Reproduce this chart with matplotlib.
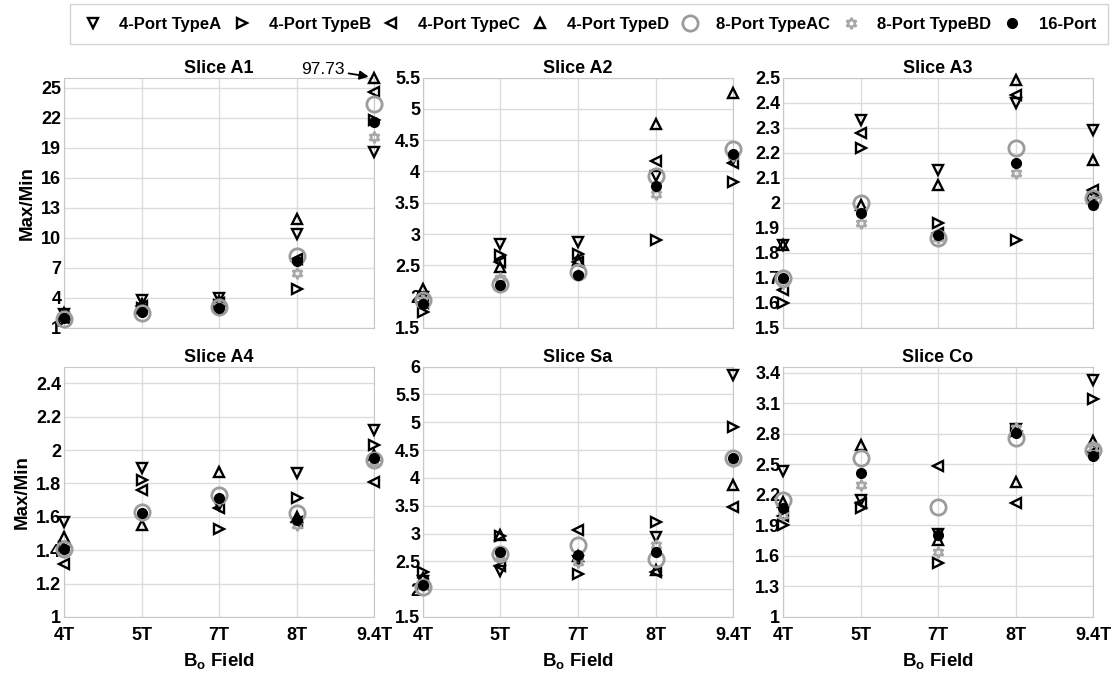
import matplotlib
matplotlib.use('Agg')
import matplotlib.pyplot as plt
from matplotlib.ticker import FuncFormatter
import numpy as np

plt.rcParams['font.family'] = ['Liberation Sans', 'DejaVu Sans']
plt.rcParams['font.weight'] = 'bold'
plt.rcParams['mathtext.fontset'] = 'custom'
plt.rcParams['mathtext.rm'] = 'Liberation Sans:bold'
plt.rcParams['mathtext.bf'] = 'Liberation Sans:bold'

fields = ['4T', '5T', '7T', '8T', '9.4T']
series = ['4-Port TypeA', '4-Port TypeB', '4-Port TypeC', '4-Port TypeD',
          '8-Port TypeAC', '8-Port TypeBD', '16-Port']
titles = ['Slice A1', 'Slice A2', 'Slice A3', 'Slice A4', 'Slice Sa', 'Slice Co']

# Max/Min ratio, one row per coil configuration, one column per field strength
slice_a1 = [
    [2.4, 3.8, 4.0, 10.4, 18.6],
    [1.8, 3.0, 3.3, 4.9, 21.8],
    [2.0, 3.2, 3.5, 7.9, 24.6],
    [2.5, 3.4, 3.7, 11.9, 97.73],
    [1.9, 2.5, 3.1, 8.2, 23.4],
    [2.1, 2.7, 3.2, 6.5, 20.1],
    [2.0, 2.6, 3.0, 7.7, 21.6],
]
slice_a2 = [
    [2.00, 2.84, 2.87, 3.93, 4.20],
    [1.75, 2.67, 2.68, 2.91, 3.83],
    [1.90, 2.55, 2.55, 4.17, 4.13],
    [2.13, 2.47, 2.58, 4.75, 5.26],
    [1.94, 2.21, 2.39, 3.93, 4.36],
    [1.95, 2.30, 2.35, 3.64, 4.25],
    [1.89, 2.18, 2.34, 3.77, 4.28],
]
slice_a3 = [
    [1.83, 2.33, 2.13, 2.40, 2.29],
    [1.60, 2.22, 1.92, 1.85, 2.02],
    [1.65, 2.28, 1.88, 2.43, 2.05],
    [1.83, 1.99, 2.07, 2.49, 2.17],
    [1.70, 2.00, 1.86, 2.22, 2.02],
    [1.68, 1.92, 1.86, 2.12, 2.01],
    [1.70, 1.96, 1.87, 2.16, 1.99],
]
slice_a4 = [
    [1.57, 1.89, 1.67, 1.86, 2.12],
    [1.42, 1.82, 1.53, 1.71, 2.03],
    [1.32, 1.76, 1.65, 1.57, 1.81],
    [1.48, 1.55, 1.87, 1.60, 1.97],
    [1.41, 1.63, 1.73, 1.62, 1.94],
    [1.40, 1.61, 1.70, 1.55, 1.93],
    [1.41, 1.62, 1.71, 1.58, 1.95],
]
slice_sa = [
    [2.15, 2.32, 2.50, 2.94, 5.85],
    [2.30, 2.95, 2.28, 3.21, 4.92],
    [2.10, 2.42, 3.06, 2.31, 3.48],
    [2.20, 2.98, 2.60, 2.35, 3.87],
    [2.04, 2.64, 2.79, 2.55, 4.35],
    [2.05, 2.60, 2.49, 2.79, 4.30],
    [2.07, 2.67, 2.61, 2.67, 4.35],
]
slice_co = [
    [2.43, 2.15, 1.82, 2.85, 3.33],
    [1.90, 2.07, 1.53, 2.83, 3.14],
    [1.99, 2.12, 2.48, 2.12, 2.62],
    [2.13, 2.69, 1.76, 2.33, 2.73],
    [2.15, 2.56, 2.08, 2.76, 2.64],
    [2.00, 2.30, 1.64, 2.86, 2.66],
    [2.07, 2.41, 1.81, 2.81, 2.58],
]
slices = [slice_a1, slice_a2, slice_a3, slice_a4, slice_sa, slice_co]

y_limits = [(1, 26), (1.5, 5.5), (1.5, 2.5), (1, 2.5), (1.5, 6), (1, 3.46)]
y_ticks = [np.arange(1, 25.5, 3), np.arange(1.5, 5.55, 0.5),
           np.arange(1.5, 2.55, 0.1), np.arange(1, 2.45, 0.2),
           np.arange(1.5, 6.05, 0.5), np.arange(1, 3.45, 0.3)]

open_k = dict(mec='k', mfc='none', ms=7, mew=1.7, ls='none')
styles = [
    dict(marker='v', **open_k),
    dict(marker='>', **open_k),
    dict(marker='<', **open_k),
    dict(marker='^', **open_k),
    dict(marker='o', mec='#9c9c9c', mfc='none', ms=11, mew=2.0, ls='none'),
    dict(marker=(6, 1, 0), mec='#a6a6a6', mfc='none', ms=8, mew=1.7, ls='none'),
    dict(marker='o', mec='k', mfc='k', ms=7, ls='none'),
]

fig = plt.figure(figsize=(11.14, 6.88), dpi=100)

lefts = [0.0575, 0.3797, 0.7029]
bottoms = [0.5233, 0.1032]
w, h = 0.2783, 0.3640
x = np.arange(1, len(fields) + 1)
fmt = FuncFormatter(lambda v, p: '%g' % round(v, 2))

handles = []
for k, data in enumerate(slices):
    r, c = divmod(k, 3)
    ax = fig.add_axes([lefts[c], bottoms[r], w, h])
    lo, hi = y_limits[k]
    for i, row in enumerate(data):
        vals = np.minimum(np.array(row, dtype=float), hi)
        ln, = ax.plot(x, vals, clip_on=False, zorder=3 + i, **styles[i])
        if k == 0:
            handles.append(ln)
        # values beyond the axis are pinned to the top and labelled
        for j, v in enumerate(row):
            if v > hi:
                ax.annotate('%.2f' % v, xy=(x[j], hi), xycoords='data',
                            xytext=(-37, 6), textcoords='offset points',
                            fontsize=12.5, fontweight='normal', va='center', ha='center',
                            annotation_clip=False, zorder=20,
                            arrowprops=dict(arrowstyle='-|>', color='k', fc='k', lw=1.3,
                                            mutation_scale=13, shrinkA=1, shrinkB=4))
    ax.set_xlim(1, 5)
    ax.set_ylim(lo, hi)
    ax.set_xticks(x)
    ax.set_yticks(y_ticks[k])
    ax.yaxis.set_major_formatter(fmt)
    ax.grid(True, color='#dcdcdc', lw=1.0)
    ax.set_axisbelow(True)
    for s in ax.spines.values():
        s.set_color('#c8c8c8')
    ax.tick_params(axis='y', length=0, labelsize=13, pad=2)
    ax.tick_params(axis='x', length=0, labelsize=13, pad=7)
    for t in ax.get_yticklabels() + ax.get_xticklabels():
        t.set_fontweight('bold')
    ax.set_title(titles[k], fontsize=13, fontweight='bold', pad=3)
    if r == 0:
        ax.set_xticklabels([])
    else:
        ax.set_xticklabels(fields)
        ax.set_xlabel(r'B$_\mathbf{o}$ Field', fontsize=13.5, fontweight='bold', labelpad=6)
    if c == 0:
        ax.set_ylabel('Max/Min', fontsize=13.5, fontweight='bold', labelpad=4)

fig.legend(handles, series, loc='center', ncol=7, mode='expand',
           bbox_to_anchor=(0.063, 0.935, 0.932, 0.059),
           frameon=True, fancybox=False, edgecolor='#c8c8c8', handlelength=1.2,
           handletextpad=1.0, columnspacing=1.0, borderaxespad=0, borderpad=0.75,
           prop=dict(weight='bold', size=12))

fig.savefig('out.png', dpi=100)
